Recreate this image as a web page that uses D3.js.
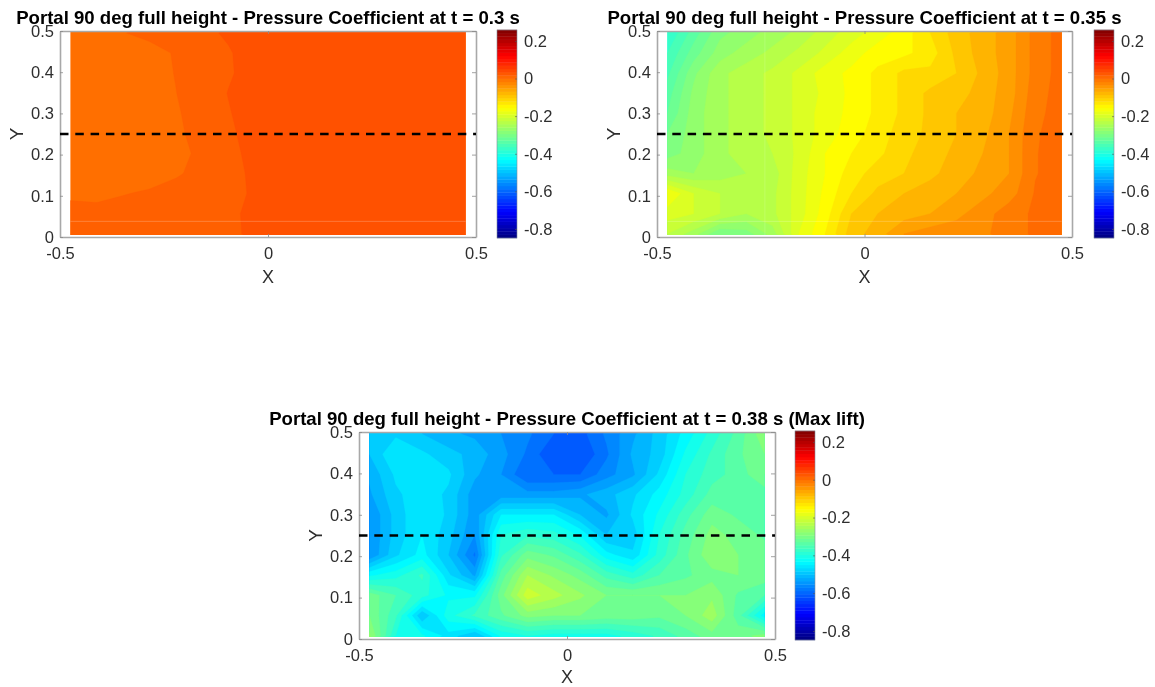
<!DOCTYPE html>
<html><head><meta charset="utf-8">
<script src="https://cdn.jsdelivr.net/npm/d3@7/dist/d3.min.js"></script>
<style>
html,body{margin:0;padding:0;background:#fff;overflow:hidden}
svg{display:block;font-family:"Liberation Sans",Arial,sans-serif;filter:blur(0.45px)}
</style></head><body>
<svg id="c" width="1155" height="687"></svg>
<script>
const xGrid = [-0.475,-0.412,-0.348,-0.285,-0.222,-0.158,-0.095,-0.032,0.032,0.095,0.158,0.222,0.285,0.348,0.412,0.475];
const yGrid = [0.495,0.446,0.398,0.349,0.300,0.252,0.203,0.154,0.105,0.057,0.008];
const xTicks = [-0.5,0,0.5];
const yTicks = [0,0.1,0.2,0.3,0.4,0.5];
const cbTicks = [0.2,0,-0.2,-0.4,-0.6,-0.8];
const cbRange = [-0.848,0.258];

const cp030 = [
 .006,.011,.0154,.020,.0246,.0291,.0337,.039,.042,.044,.045,.046,.046,.047,.047,.048,
 .005,.007,.009,.0105,.0173,.0241,.0309,.0377,.042,.044,.045,.046,.046,.047,.047,.048,
 .005,.007,.009,.0097,.0166,.0235,.0305,.0374,.042,.044,.045,.046,.046,.047,.047,.048,
 .005,.006,.007,.0073,.0157,.024,.0325,.0408,.044,.045,.045,.046,.046,.047,.047,.048,
 .004,.005,.006,.0061,.0143,.0226,.031,.0393,.044,.045,.045,.046,.046,.047,.047,.048,
 .003,.004,.005,.005,.0131,.0214,.0295,.0376,.043,.045,.045,.046,.046,.047,.047,.048,
 .002,.003,.003,.0032,.0111,.0195,.028,.0363,.042,.044,.045,.046,.046,.047,.047,.048,
 .004,.005,.006,.0072,.0141,.0208,.0277,.0345,.041,.044,.045,.046,.046,.047,.047,.048,
 .0078,.0114,.0151,.0186,.0223,.0258,.0295,.0331,.039,.043,.045,.046,.046,.047,.047,.048,
 .0314,.0217,.024,.024,.0251,.0274,.0306,.0337,.039,.043,.045,.046,.046,.047,.047,.048,
 .0251,.0251,.0251,.0263,.0263,.0274,.0291,.0349,.039,.043,.045,.046,.046,.047,.047,.048
];
const cp035 = [
 -.38,-.33,-.285,-.27,-.25,-.235,-.21,-.19,-.17,-.15,-.12,-.09,-.07,-.05,-.012,.008,
 -.36,-.31,-.27,-.25,-.235,-.215,-.195,-.17,-.15,-.145,-.13,-.095,-.07,-.05,-.012,.008,
 -.345,-.285,-.245,-.23,-.215,-.195,-.17,-.155,-.135,-.115,-.115,-.10,-.075,-.05,-.012,.008,
 -.33,-.275,-.245,-.23,-.215,-.195,-.175,-.155,-.135,-.115,-.095,-.09,-.07,-.05,-.008,.008,
 -.32,-.27,-.245,-.23,-.215,-.195,-.17,-.155,-.135,-.115,-.095,-.08,-.07,-.045,-.005,.008,
 -.30,-.27,-.245,-.23,-.215,-.195,-.17,-.15,-.13,-.11,-.095,-.08,-.065,-.04,-.002,.008,
 -.29,-.27,-.245,-.23,-.22,-.195,-.16,-.14,-.125,-.105,-.09,-.075,-.06,-.04,-.001,.008,
 -.25,-.26,-.25,-.24,-.23,-.19,-.16,-.13,-.11,-.10,-.085,-.07,-.055,-.04,-.001,.008,
 -.16,-.20,-.22,-.235,-.225,-.19,-.155,-.12,-.095,-.08,-.07,-.06,-.045,-.03,.002,.008,
 -.19,-.20,-.22,-.24,-.225,-.19,-.15,-.10,-.08,-.07,-.06,-.045,-.03,-.008,.003,.008,
 -.22,-.25,-.30,-.29,-.25,-.18,-.14,-.09,-.07,-.04,-.03,-.03,-.025,-.008,.003,.008
];
const cp038 = [
 -.50,-.48,-.50,-.52,-.53,-.55,-.57,-.60,-.61,-.57,-.53,-.49,-.44,-.39,-.34,-.28,
 -.50,-.45,-.47,-.49,-.51,-.54,-.58,-.625,-.625,-.58,-.52,-.49,-.42,-.37,-.33,-.30,
 -.52,-.47,-.45,-.47,-.52,-.55,-.60,-.60,-.60,-.56,-.53,-.47,-.40,-.36,-.34,-.30,
 -.53,-.48,-.46,-.48,-.54,-.54,-.54,-.54,-.53,-.51,-.48,-.44,-.39,-.34,-.35,-.34,
 -.55,-.49,-.45,-.48,-.54,-.45,-.45,-.45,-.50,-.53,-.47,-.42,-.36,-.31,-.33,-.34,
 -.55,-.49,-.45,-.49,-.55,-.40,-.38,-.39,-.43,-.50,-.49,-.40,-.34,-.29,-.31,-.33,
 -.55,-.48,-.44,-.50,-.58,-.38,-.31,-.33,-.37,-.44,-.47,-.39,-.33,-.28,-.30,-.31,
 -.43,-.41,-.37,-.47,-.53,-.34,-.25,-.28,-.31,-.36,-.39,-.35,-.33,-.31,-.30,-.31,
 -.31,-.35,-.39,-.43,-.43,-.31,-.21,-.24,-.27,-.30,-.30,-.30,-.30,-.28,-.33,-.35,
 -.30,-.37,-.50,-.41,-.37,-.33,-.29,-.30,-.30,-.31,-.31,-.32,-.30,-.26,-.34,-.44,
 -.27,-.40,-.42,-.46,-.50,-.42,-.40,-.41,-.41,-.41,-.39,-.37,-.34,-.31,-.31,-.29
];

const levels030 = [-0.001,0.016,0.032];
const levels035 = d3.range(-0.40,0.02,0.02);
const levels038 = d3.range(-0.75,-0.17,0.025);

const panels = [
 {title:"Portal 90 deg full height - Pressure Coefficient at t = 0.3 s", values:cp030, levels:levels030, off:0,
  L:60,R:476,T:31,B:237, cbL:497,cbR:517, fy:32, fb:235, xl:46, faintH:true, faintV:false},
 {title:"Portal 90 deg full height - Pressure Coefficient at t = 0.35 s", values:cp035, levels:levels035, off:0.005,
  L:657,R:1072,T:31,B:237, cbL:1094,cbR:1114, fy:32, fb:235, xl:46, faintH:true, faintV:true},
 {title:"Portal 90 deg full height - Pressure Coefficient at t = 0.38 s (Max lift)", values:cp038, levels:levels038, off:0.0125,
  L:359,R:775,T:432,B:639, cbL:795,cbR:815, fy:433, fb:637, xl:43.5, faintH:false, faintV:false}
];

function jet(v){
  const t=(v-cbRange[0])/(cbRange[1]-cbRange[0]);
  const c=x=>Math.max(0,Math.min(1,x));
  const r=c(Math.min(4*t-1.5,-4*t+4.5)),g=c(Math.min(4*t-0.5,-4*t+3.5)),b=c(Math.min(4*t+0.5,-4*t+2.5));
  return d3.rgb(r*255,g*255,b*255).formatHex();
}

const svg=d3.select("#c");
const tickColor="#2e2e2e", boxColor="#a8a8a8";
const contourGen=d3.contours().size([xGrid.length,yGrid.length]).smooth(true);

panels.forEach((p,i)=>{
  const g=svg.append("g");
  const x=d3.scaleLinear().domain([-0.5,0.5]).range([p.L,p.R]);
  const y=d3.scaleLinear().domain([0,0.5]).range([p.B,p.T]);
  const gx=d3.scaleLinear().domain([0,xGrid.length-1]).range([xGrid[0],xGrid[xGrid.length-1]]);
  const gy=d3.scaleLinear().domain([0,yGrid.length-1]).range([yGrid[0],yGrid[yGrid.length-1]]);
  const path=d3.geoPath(d3.geoTransform({point(a,b){this.stream.point(x(gx(a-0.5)),y(gy(b-0.5)));}}));
  const clipId="clip"+i;
  const fx0=x(xGrid[0]),fx1=x(xGrid[xGrid.length-1]);
  svg.append("clipPath").attr("id",clipId).append("rect")
     .attr("x",fx0).attr("y",p.fy).attr("width",fx1-fx0).attr("height",p.fb-p.fy);
  g.append("g").attr("clip-path",`url(#${clipId})`)
   .selectAll("path").data(contourGen.thresholds(p.levels)(p.values)).join("path")
   .attr("d",path).attr("fill",d=>jet(d.value+p.off)).attr("stroke",d=>jet(d.value+p.off)).attr("stroke-width",0.3);

  if(p.faintH) g.append("line").attr("x1",fx0).attr("x2",fx1).attr("y1",y(0.038)).attr("y2",y(0.038))
     .attr("stroke","#fff").attr("stroke-opacity",0.22).attr("stroke-width",1);
  if(p.faintV) g.append("line").attr("x1",x(-0.24)).attr("x2",x(-0.24)).attr("y1",p.fy).attr("y2",p.fb)
     .attr("stroke","#fff").attr("stroke-opacity",0.15).attr("stroke-width",1);

  const style=(a)=>{
    a.selectAll(".domain").attr("stroke",boxColor).attr("stroke-width",1.6);
    a.selectAll(".tick line").attr("stroke","#8a8a8a").attr("stroke-width",0.8);
    a.selectAll("text").attr("fill",tickColor).attr("font-size",16.5).attr("font-family","Liberation Sans");
  };
  const fmt=d=>String(d);
  g.append("g").attr("transform",`translate(0,${p.B})`)
   .call(d3.axisBottom(x).tickValues(xTicks).tickFormat(fmt).tickSizeInner(-3).tickSizeOuter(0).tickPadding(10)).call(style);
  g.append("g").attr("transform",`translate(0,${p.T})`)
   .call(d3.axisTop(x).tickValues(xTicks).tickFormat("").tickSizeInner(-3).tickSizeOuter(0)).call(style);
  g.append("g").attr("transform",`translate(${p.L},0)`)
   .call(d3.axisLeft(y).tickValues(yTicks).tickFormat(fmt).tickSizeInner(-3).tickSizeOuter(0).tickPadding(6)).call(style);
  g.append("g").attr("transform",`translate(${p.R},0)`)
   .call(d3.axisRight(y).tickValues(yTicks).tickFormat("").tickSizeInner(-4).tickSizeOuter(0)).call(style);

  g.append("line").attr("x1",p.L).attr("x2",p.R).attr("y1",y(0.25)).attr("y2",y(0.25))
   .attr("stroke","#000").attr("stroke-width",2.4).attr("stroke-dasharray","8.5,6.8");

  g.append("text").attr("x",(p.L+p.R)/2).attr("y",p.T-7).attr("text-anchor","middle")
   .attr("font-weight","bold").attr("font-size",18.6).attr("fill","#000").text(p.title);
  g.append("text").attr("x",(p.L+p.R)/2).attr("y",p.B+p.xl).attr("text-anchor","middle")
   .attr("font-size",18).attr("fill",tickColor).text("X");
  g.append("text").attr("transform",`translate(${p.L-37},${(p.T+p.B)/2}) rotate(-90)`).attr("text-anchor","middle")
   .attr("font-size",19).attr("fill",tickColor).text("Y");

  const cb=d3.scaleLinear().domain(cbRange).range([p.B+1,p.T-1]);
  const n=64, steps=d3.range(n).map(k=>cbRange[0]+(cbRange[1]-cbRange[0])*(k+0.5)/n);
  const h=(cb.range()[0]-cb.range()[1])/n;
  g.append("g").selectAll("rect").data(steps).join("rect")
   .attr("x",p.cbL).attr("width",p.cbR-p.cbL)
   .attr("y",d=>cb(d)-h/2-0.2).attr("height",h+0.4).attr("fill",d=>jet(d));
  g.append("rect").attr("x",p.cbL).attr("y",cb.range()[1]).attr("width",p.cbR-p.cbL).attr("height",cb.range()[0]-cb.range()[1])
   .attr("fill","none").attr("stroke","#7f8c9a").attr("stroke-width",0.6);
  g.append("g").attr("transform",`translate(${p.cbR},0)`)
   .call(d3.axisRight(cb).tickValues(cbTicks).tickFormat(fmt).tickSizeInner(-2).tickSizeOuter(0).tickPadding(7))
   .call(a=>{a.select(".domain").remove();a.selectAll(".tick line").attr("stroke","#555").attr("stroke-width",0.6);
     a.selectAll("text").attr("fill",tickColor).attr("font-size",16.5).attr("font-family","Liberation Sans");});
});
</script>
</body></html>
